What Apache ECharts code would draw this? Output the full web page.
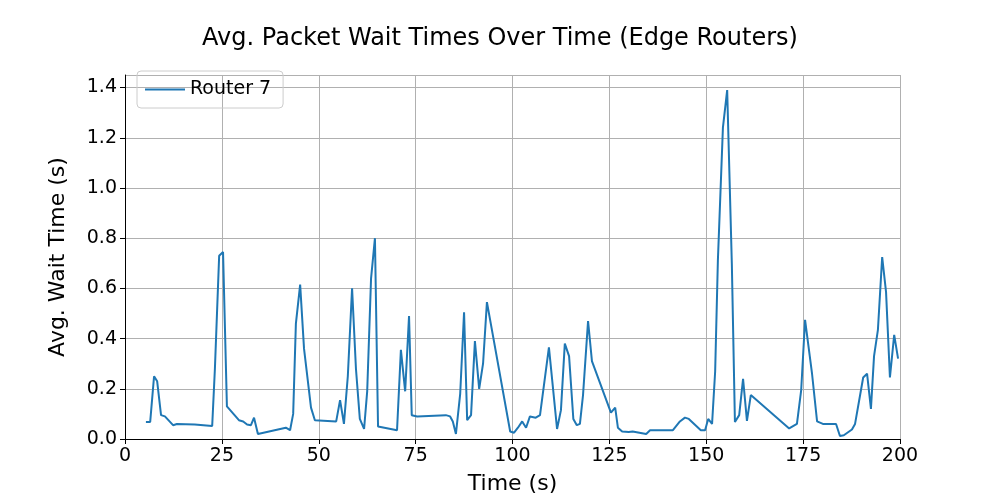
<!DOCTYPE html>
<html><head><meta charset="utf-8">
<script src="https://cdn.jsdelivr.net/npm/echarts@6/dist/echarts.min.js"></script>
<style>html,body{margin:0;padding:0;background:#fff}#c{width:1000px;height:500px}</style>
</head><body><div id="c"></div>
<script>
const times = [5.4,6.5,7.5,8.3,9.3,10.3,12.4,13.4,18,22.5,23.2,24.3,25.3,26.3,29.4,30.5,31.5,32.5,33.3,34.3,41.5,42.6,43.4,44.1,45.2,46.2,48,49,54.5,55.5,56.5,57.5,58.6,59.6,60.6,61.7,62.5,63.5,64.5,65.3,70.2,71.2,72.3,73.3,74,75.4,82.8,83.9,84.6,85.4,86.5,87.5,88.3,89.3,90.3,91.4,92.4,93.4,99.4,100.4,101.4,102.5,103.5,104.5,106,107.1,109.4,111.5,112.5,113.5,114.6,115.7,116.6,117.4,118.2,119.5,120.5,125.4,126.5,127.2,128.3,130,131,134.5,135.5,141.4,143.2,144.5,145.5,148.6,149.7,150.5,151.5,152.3,153.0,154.3,155.4,156.6,157.4,158.5,159.5,160.5,161.5,171.4,173.4,174.5,175.5,177.3,178.6,180.1,183.5,184.5,185.5,187.6,188.4,190.5,191.5,192.5,193.3,194.3,195.4,196.4,197.4,198.5,199.5];
const waits = [0.068,0.068,0.25,0.23,0.095,0.09,0.055,0.06,0.058,0.052,0.28,0.73,0.745,0.13,0.075,0.07,0.058,0.055,0.085,0.02,0.045,0.035,0.1,0.46,0.615,0.36,0.125,0.075,0.07,0.155,0.06,0.25,0.6,0.28,0.08,0.04,0.19,0.64,0.8,0.05,0.035,0.355,0.19,0.49,0.095,0.09,0.095,0.09,0.07,0.02,0.18,0.505,0.075,0.095,0.39,0.2,0.3,0.545,0.03,0.025,0.045,0.07,0.045,0.09,0.085,0.095,0.365,0.04,0.115,0.38,0.33,0.08,0.055,0.06,0.175,0.47,0.31,0.105,0.125,0.045,0.03,0.028,0.03,0.02,0.035,0.035,0.07,0.085,0.08,0.035,0.035,0.08,0.06,0.27,0.71,1.24,1.39,0.70,0.068,0.095,0.24,0.072,0.175,0.042,0.06,0.195,0.475,0.26,0.07,0.06,0.06,0.012,0.015,0.038,0.06,0.245,0.26,0.12,0.33,0.435,0.725,0.585,0.245,0.415,0.32];
const font = 'DejaVu Sans';
const chart = echarts.init(document.getElementById('c'));
chart.setOption({
  animation:false,
  title:{text:'Avg. Packet Wait Times Over Time (Edge Routers)',left:'center',top:22,textStyle:{fontFamily:font,fontSize:24,fontWeight:'normal',color:'#000'}},
  legend:{left:137,top:71,orient:'vertical',itemWidth:40,itemHeight:2,padding:[9,12,9,8],borderColor:'#ccc',borderWidth:1,borderRadius:4,
    textStyle:{fontFamily:font,fontSize:19,color:'#000'},icon:'rect'},
  grid:{left:125,right:100,top:75,bottom:55},
  xAxis:{type:'value',min:0,max:200,interval:25,name:'Time (s)',nameLocation:'middle',nameGap:34,
    nameTextStyle:{fontFamily:font,fontSize:22,color:'#000'},
    axisLine:{lineStyle:{color:'#000',width:1}},axisTick:{show:true,length:5,lineStyle:{color:'#000'}},
    axisLabel:{fontFamily:font,fontSize:19,color:'#000',margin:8},
    splitLine:{show:true,lineStyle:{color:'#b0b0b0',width:1}}},
  yAxis:{type:'value',min:0,max:1.45,interval:0.2,name:'Avg. Wait Time (s)',nameLocation:'middle',nameGap:56,
    nameTextStyle:{fontFamily:font,fontSize:22,color:'#000'},
    axisLine:{show:true,lineStyle:{color:'#000',width:1}},axisTick:{show:true,length:5,lineStyle:{color:'#000'}},
    axisLabel:{fontFamily:font,fontSize:19,color:'#000',margin:8,formatter:v=>v.toFixed(1),showMaxLabel:false},
    splitLine:{show:true,lineStyle:{color:'#b0b0b0',width:1}}},
  series:[{name:'Router 7',type:'line',data:times.map((t,i)=>[t,waits[i]]),showSymbol:false,
    lineStyle:{color:'#1f77b4',width:2},itemStyle:{color:'#1f77b4'}}]
});
</script></body></html>
